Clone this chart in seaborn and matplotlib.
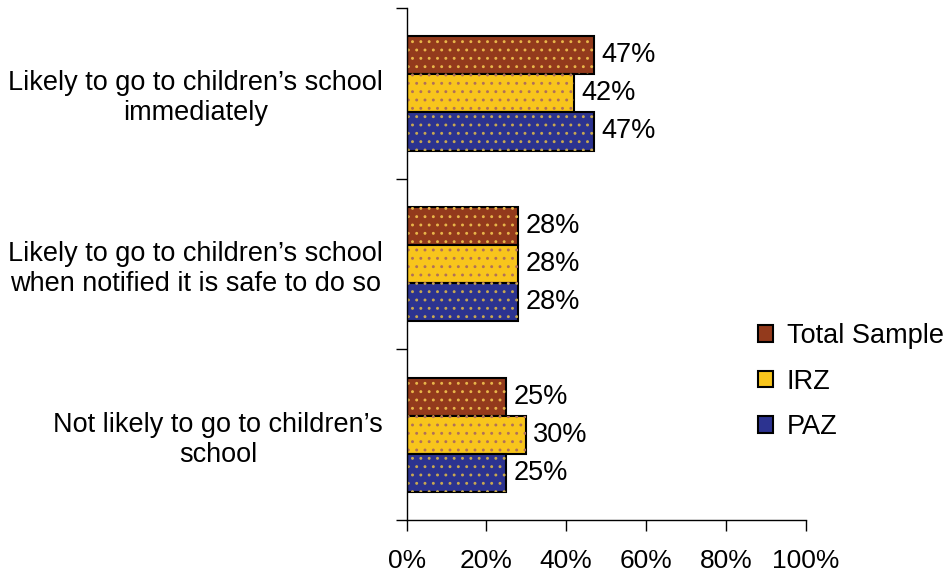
import matplotlib
matplotlib.use('Agg')
import matplotlib.pyplot as plt
import pandas as pd
import seaborn as sns
from matplotlib.patches import Patch, Rectangle
from matplotlib.ticker import FixedLocator, PercentFormatter

categories = [
    "Likely to go to children\u2019s school\nimmediately",
    "Likely to go to children\u2019s school\nwhen notified it is safe to do so",
    "Not likely to go to children\u2019s\nschool",
]
groups = ["Total Sample", "IRZ", "PAZ"]
total_sample = [47, 28, 25]
irz = [42, 28, 30]
paz = [47, 28, 25]

colors = ["#933a1c", "#f8c51c", "#2c3390"]
dot_colors = ["#e8b64a", "#b0705a", "#c8a850"]

df = pd.DataFrame({
    "category": categories * 3,
    "group": [g for g in groups for _ in categories],
    "value": total_sample + irz + paz,
})

sns.set_theme(style="white")
plt.rcParams['font.family'] = ['Liberation Sans', 'DejaVu Sans']
plt.rcParams['text.color'] = 'black'
plt.rcParams['hatch.linewidth'] = 0.9

fig = plt.figure(figsize=(9.5, 5.74), dpi=100)
ax = fig.add_axes([0.428, 0.094, 0.42, 0.892])

sns.barplot(data=df, y="category", x="value", hue="group", order=categories,
            hue_order=groups, palette=colors, orient="h", width=0.67, gap=0,
            edgecolor="black", linewidth=1.5, saturation=1, legend=False, ax=ax)

# dotted fill pattern on top of every bar
for cont, dc in zip(ax.containers, dot_colors):
    for bar in cont:
        ax.add_patch(Rectangle(bar.get_xy(), bar.get_width(), bar.get_height(),
                               fill=False, hatch="..", edgecolor=dc, linewidth=0))
    ax.bar_label(cont, labels=[f"{v:.0f}%" for v in cont.datavalues],
                 padding=5, fontsize=19.5, color="black")

ax.set_xlim(0, 100)
ax.set_ylim(2.5, -0.5)
ax.xaxis.set_major_locator(FixedLocator([0, 20, 40, 60, 80, 100]))
ax.xaxis.set_major_formatter(PercentFormatter(decimals=0))
ax.set_xlabel("")
ax.set_ylabel("")
ax.tick_params(axis="x", direction="out", length=8, width=1, colors="black",
               labelsize=19, pad=13, bottom=True)
ax.tick_params(axis="y", which="major", length=0, labelsize=19.5, pad=17,
               labelcolor="black")
ax.yaxis.set_minor_locator(FixedLocator([-0.5, 0.5, 1.5, 2.5]))
ax.tick_params(axis="y", which="minor", direction="out", length=8, width=1,
               left=True, color="black")
for lab in ax.get_yticklabels():
    lab.set_multialignment("center")
for s in ["top", "right"]:
    ax.spines[s].set_visible(False)
for s in ["left", "bottom"]:
    ax.spines[s].set_color("black")
    ax.spines[s].set_linewidth(1)

handles = [Patch(facecolor=c, edgecolor="black", linewidth=1.5) for c in colors]
fig.legend(handles, groups, loc="center left", bbox_to_anchor=(0.798, 0.335),
           frameon=False, fontsize=19.5, handlelength=0.55, handleheight=0.55,
           handletextpad=0.5, labelspacing=0.72, borderpad=0, borderaxespad=0)

fig.savefig("out.png", dpi=100)
